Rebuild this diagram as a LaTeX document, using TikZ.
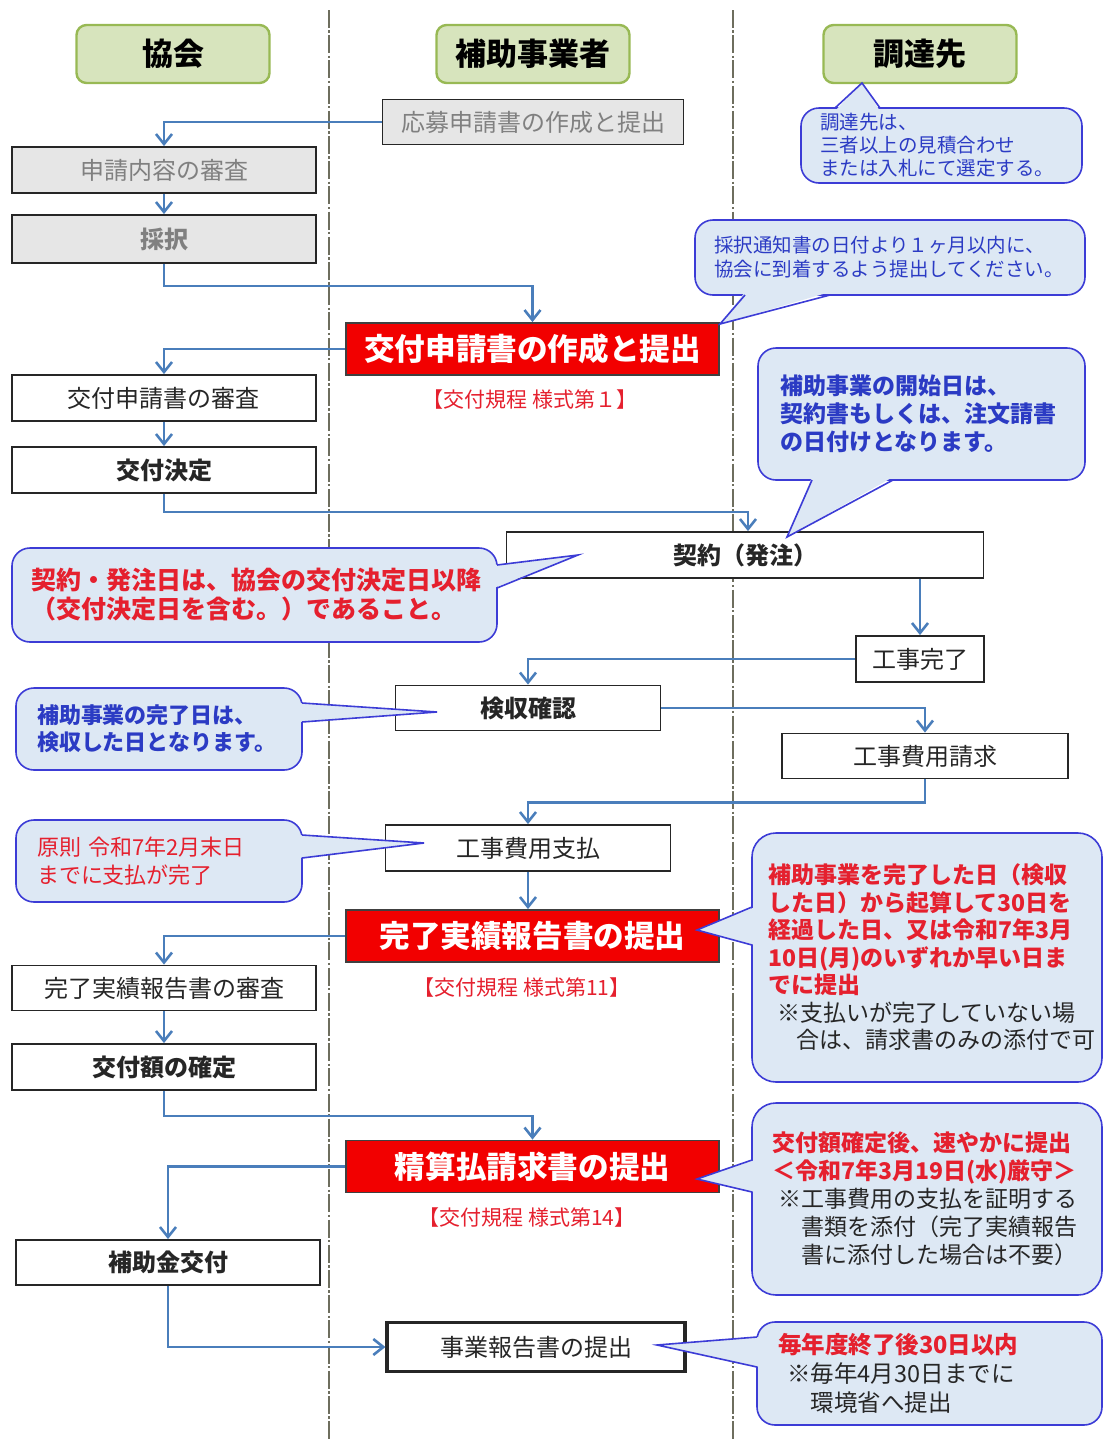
\documentclass[tikz,border=0pt]{standalone}
\usepackage{fontspec}
\setmainfont{Noto Sans CJK JP}
\usepackage{xcolor}
\usetikzlibrary{arrows.meta, positioning, calc}
\definecolor{hdfill}{HTML}{D7E4BD}
\definecolor{hdline}{HTML}{98B954}
\definecolor{boxgray}{HTML}{E6E6E6}
\definecolor{graytext}{HTML}{808080}
\definecolor{flowblue}{HTML}{4A7EBB}
\definecolor{boxred}{HTML}{F20000}
\definecolor{notefill}{HTML}{DDE8F4}
\definecolor{noteline}{HTML}{3C3CD6}
\definecolor{noteblue}{HTML}{2B3BC4}
\definecolor{notered}{HTML}{E5202E}
\definecolor{lanegray}{HTML}{6E6E5E}
\tikzset{
  header/.style={draw=hdline, fill=hdfill, line width=1.2pt, rounded corners=5pt, minimum width=96.5pt, minimum height=29pt, font=\fontsize{15.5}{18}\selectfont\bfseries},
  graybox/.style={draw=black!85, fill=boxgray, line width=0.9pt, minimum width=152pt, minimum height=23pt, font=\fontsize{12}{14}\selectfont, text=graytext},
  stepbox/.style={draw=black!85, fill=white, line width=0.9pt, minimum width=152pt, minimum height=23pt, font=\fontsize{12}{14}\selectfont, text=black!85},
  redbox/.style={draw=black!75, fill=boxred, line width=0.9pt, minimum width=186.5pt, minimum height=26pt, inner sep=2pt, font=\fontsize{15.3}{18}\selectfont\bfseries, text=white},
  formno/.style={font=\fontsize{10.5}{12}\selectfont, text=notered},
  note/.style={draw=noteline, fill=notefill, line width=0.8pt, rounded corners=9pt, align=left, inner sep=0pt},
  noteptr/.style={fill=notefill},
  noteedge/.style={draw=noteline, line width=0.8pt, line join=miter},
  flow/.style={-{Straight Barb[length=5pt, width=8pt]}, draw=flowblue, line width=1.3pt},
  lane/.style={draw=lanegray, line width=0.6pt, dash pattern=on 9pt off 1.2pt on 1.2pt off 1.2pt}
}

\begin{document}
\begin{tikzpicture}[x=0.5pt, y=-0.5pt]
  \useasboundingbox (0,0) rectangle (1104,1441);

  % swimlanes
  \draw[lane] (329,10) -- (329,1441);
  \draw[lane] (733,10) -- (733,1441);

  \node[header] (kyokai) at (173,54) {協会};
  \node[header] (jigyosha) at (533,54) {補助事業者};
  \node[header] (chotatsu) at (920,54) {調達先};

  % application
  \node[graybox, minimum width=150.5pt, minimum height=22.5pt] (oubo) at (533,122) {応募申請書の作成と提出};
  \node[graybox] (shinsa) at (164,170) {申請内容の審査};
  \node[graybox, minimum height=24pt, font=\fontsize{12}{14}\selectfont\bfseries] (saitaku) at (164,239) {採択};

  % grant request
  \node[redbox] (koufu) at (532.5,349) {交付申請書の作成と提出};
  \node[formno] (kitei1) at (530,400) {【交付規程 様式第１】};
  \node[stepbox] (koufuShinsa) at (164,398) {交付申請書の審査};
  \node[stepbox, font=\fontsize{12}{14}\selectfont\bfseries] (kettei) at (164,470) {交付決定};

  % works
  \node[stepbox, minimum width=238.5pt, font=\fontsize{12}{14}\selectfont\bfseries] (keiyaku) at (745,555) {契約（発注）};
  \node[stepbox, minimum width=64pt] (kanryo) at (920,659) {工事完了};
  \node[stepbox, minimum width=132.5pt, minimum height=22.5pt, font=\fontsize{12}{14}\selectfont\bfseries] (kenshu) at (528,708) {検収確認};
  \node[stepbox, minimum width=143pt, minimum height=22.5pt] (seikyu) at (925,756) {工事費用請求};
  \node[stepbox, minimum width=142.5pt] (shiharai) at (528,848) {工事費用支払};

  % completion report
  \node[redbox] (jisseki) at (532.5,936) {完了実績報告書の提出};
  \node[formno] (kitei11) at (522,988) {【交付規程 様式第11】};
  \node[stepbox, minimum height=22.5pt] (jissekiShinsa) at (164,988) {完了実績報告書の審査};
  \node[stepbox, font=\fontsize{12}{14}\selectfont\bfseries] (kakutei) at (164,1067) {交付額の確定};

  % payment
  \node[redbox] (seisan) at (532.5,1166.5) {精算払請求書の提出};
  \node[formno] (kitei14) at (527,1218) {【交付規程 様式第14】};
  \node[stepbox, minimum height=22.5pt, font=\fontsize{12}{14}\selectfont\bfseries] (hojokin) at (168,1262.5) {補助金交付};
  \node[stepbox, minimum width=149pt, minimum height=24.5pt, line width=1.6pt] (jigyo) at (536,1347) {事業報告書の提出};

  % flow
  \draw[flow] (oubo.west) -| (shinsa.north);
  \draw[flow] (shinsa.south) -- (saitaku.north);
  \draw[flow] (saitaku.south) -- ++(0,22) -| (koufu.north);
  \draw[flow] (koufu.west) -| (koufuShinsa.north);
  \draw[flow] (koufuShinsa.south) -- (kettei.north);
  \draw[flow] (kettei.south) -- ++(0,18) -| ([xshift=1.5pt]keiyaku.north);
  \draw[flow] (keiyaku.south -| kanryo.north) -- (kanryo.north);
  \draw[flow] (kanryo.west) -| (kenshu.north);
  \draw[flow] (kenshu.east) -| (seikyu.north);
  \draw[flow] (seikyu.south) -- ++(0,23) -| (shiharai.north);
  \draw[flow] (shiharai.south) -- (shiharai.south |- jisseki.north);
  \draw[flow] (jisseki.west) -| (jissekiShinsa.north);
  \draw[flow] (jissekiShinsa.south) -- (kakutei.north);
  \draw[flow] (kakutei.south) -- ++(0,25) -| (seisan.north);
  \draw[flow] (seisan.west) -| (hojokin.north);
  \draw[flow] (hojokin.south) |- (jigyo.west);

  % notes
  \node[note, minimum width=140.5pt, minimum height=37.5pt, text width=121.5pt, text=noteblue,
        font=\fontsize{9.75}{11.5}\selectfont] (tsNote) at (941.5,145.5)
    {調達先は、\\三者以上の見積合わせ\\または入札にて選定する。};
  \fill[noteptr] (835,111) -- (862,83) -- (880,111) -- cycle;
  \draw[noteedge] (835,108) -- (862,83) -- (880,108);

  \node[note, minimum width=195pt, minimum height=37.5pt, text width=176pt, text=noteblue,
        font=\fontsize{9.75}{12}\selectfont] (ssNote) at (890,257.5)
    {採択通知書の日付より１ヶ月以内に、\\協会に到着するよう提出してください。};
  \fill[noteptr] (745,292) -- (720,324) -- (830,292) -- cycle;
  \draw[noteedge] (745,295) -- (720,324) -- (830,295);

  \node[note, minimum width=163.5pt, minimum height=66pt, text width=141.5pt, text=noteblue,
        font=\fontsize{11.5}{14}\selectfont\bfseries] (ksNote) at (921.5,414)
    {補助事業の開始日は、\\契約書もしくは、注文請書\\の日付けとなります。};
  \fill[noteptr] (812,477) -- (787,537) -- (893,477) -- cycle;
  \draw[noteedge] (812,480) -- (787,537) -- (893,480);

  \node[note, minimum width=242.5pt, minimum height=47pt, text width=222.5pt, text=notered,
        font=\fontsize{12.5}{14.5}\selectfont\bfseries] (khNote) at (254.5,595)
    {契約・発注日は、協会の交付決定日以降\\（交付決定日を含む。）であること。};
  \fill[noteptr] (494,565) -- (578,555) -- (494,588) -- cycle;
  \draw[noteedge] (497,565) -- (578,555) -- (497,588);

  \node[note, minimum width=143pt, minimum height=41pt, text width=122pt, text=noteblue,
        font=\fontsize{11}{13.5}\selectfont\bfseries] (krNote) at (159,729)
    {補助事業の完了日は、\\検収した日となります。};
  \fill[noteptr] (299,703) -- (437,712) -- (299,722) -- cycle;
  \draw[noteedge] (302,703) -- (437,712) -- (302,722);

  \node[note, minimum width=143pt, minimum height=41pt, text width=122pt, text=notered,
        font=\fontsize{11}{14}\selectfont] (gsNote) at (159,861)
    {原則 令和7年2月末日\\までに支払が完了};
  \fill[noteptr] (299,835) -- (424,843) -- (299,858) -- cycle;
  \draw[noteedge] (302,835) -- (424,843) -- (302,858);

  \node[note, rounded corners=12pt, minimum width=175pt, minimum height=124.5pt, text width=159pt,
        text=black!85, font=\fontsize{11.5}{13.75}\selectfont] (jhNote) at (927,957.5)
    {\textcolor{notered}{\textbf{補助事業を完了した日（検収}}\\
     \textcolor{notered}{\textbf{した日）から起算して30日を}}\\
     \textcolor{notered}{\textbf{経過した日、又は令和7年3月}}\\
     \textcolor{notered}{\textbf{10日(月)のいずれか早い日ま}}\\
     \textcolor{notered}{\textbf{でに提出}}\\
     \hspace*{0.4em}※支払いが完了していない場\\
     \hspace*{1.25em}合は、請求書のみの添付で可};
  \fill[noteptr] (755,907) -- (697,930) -- (755,945) -- cycle;
  \draw[noteedge] (752,907) -- (697,930) -- (752,945);

  \node[note, rounded corners=12pt, minimum width=175pt, minimum height=96pt, text width=155pt,
        text=black!85, font=\fontsize{11.5}{14}\selectfont] (ssbNote) at (927,1199)
    {\textcolor{notered}{\textbf{交付額確定後、速やかに提出}}\\
     \textcolor{notered}{\textbf{＜令和7年3月19日(水)厳守＞}}\\
     \hspace*{0.3em}※工事費用の支払を証明する\\
     \hspace*{1.3em}書類を添付（完了実績報告\\
     \hspace*{1.3em}書に添付した場合は不要）};
  \fill[noteptr] (755,1160) -- (697,1179) -- (755,1192) -- cycle;
  \draw[noteedge] (752,1160) -- (697,1179) -- (752,1192);

  \node[note, minimum width=172.5pt, minimum height=51.5pt, text width=151.5pt,
        text=black!85, font=\fontsize{11.75}{14.5}\selectfont] (jbNote) at (929.5,1373.5)
    {\textcolor{notered}{\textbf{毎年度終了後30日以内}}\\
     \hspace*{0.4em}※毎年4月30日までに\\
     \hspace*{1.4em}環境省へ提出};
  \fill[noteptr] (760,1337) -- (657,1345) -- (760,1367) -- cycle;
  \draw[noteedge] (757,1337) -- (657,1345) -- (757,1367);
\end{tikzpicture}
\end{document}
